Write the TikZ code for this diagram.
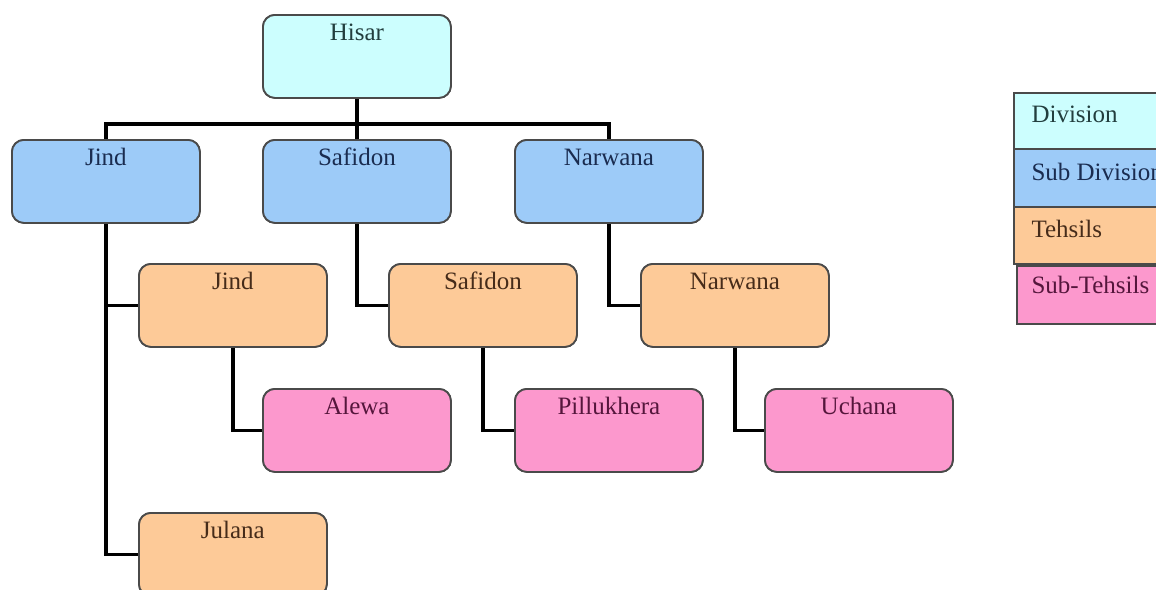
\documentclass[tikz,border=0pt]{standalone}
\usepackage{fontspec}
\setmainfont{Liberation Serif}
\definecolor{cDiv}{HTML}{CCFEFE}
\definecolor{cSub}{HTML}{9DCBF8}
\definecolor{cTeh}{HTML}{FDCA98}
\definecolor{cSt}{HTML}{FC98CD}
\definecolor{tDiv}{HTML}{223E3E}
\definecolor{tSub}{HTML}{1A2C50}
\definecolor{tTeh}{HTML}{462C1A}
\definecolor{tSt}{HTML}{55163C}
\definecolor{bord}{HTML}{4A4A4A}
\begin{document}
\begin{tikzpicture}[x=1pt,y=-1pt,
  font=\fontsize{25}{29}\selectfont,
  box/.style={draw=bord, line width=1.8pt, rounded corners=12pt, anchor=north west,
    minimum width=188pt, minimum height=83pt, inner sep=0pt},
  divbox/.style={box, fill=cDiv, label={[anchor=base, yshift=-26pt, text=tDiv]north:#1}},
  subbox/.style={box, fill=cSub, label={[anchor=base, yshift=-26pt, text=tSub]north:#1}},
  tehbox/.style={box, fill=cTeh, label={[anchor=base, yshift=-26pt, text=tTeh]north:#1}},
  stbox/.style={box, fill=cSt, label={[anchor=base, yshift=-26pt, text=tSt]north:#1}},
  legbox/.style={draw=bord, line width=1.8pt, anchor=north west, minimum width=160pt, inner sep=0pt},
  conn/.style={draw=black, line width=3.8pt}
]
\useasboundingbox (0,0) rectangle (1156,589);
\fill[white] (0,0) rectangle (1156,589);
\clip (0,0) rectangle (1156,589);

\coordinate (bar) at (0,124);

% connectors first (drawn beneath boxes)
\path (262,14) node[box] (hisar) {}
      (11,139) node[box] (jind2) {}
      (262,139) node[box] (safidon2) {}
      (514,139) node[box] (narwana2) {}
      (138,263) node[box] (jind3) {}
      (388,263) node[box] (safidon3) {}
      (640,263) node[box] (narwana3) {}
      (262,388) node[box] (alewa) {}
      (514,388) node[box] (pillukhera) {}
      (764,388) node[box] (uchana) {}
      (138,512) node[box] (julana) {};

\draw[conn] (hisar.south) -- (safidon2.north);
\draw[conn] (jind2.north) -- (jind2.north |- bar) -- (narwana2.north |- bar) -- (narwana2.north);
\draw[conn] (jind2.south) |- (jind3.west);
\draw[conn] (jind2.south) |- (julana.west);
\draw[conn] (safidon2.south) |- (safidon3.west);
\draw[conn] (narwana2.south) |- (narwana3.west);
\draw[conn] (jind3.south) |- (alewa.west);
\draw[conn] (safidon3.south) |- (pillukhera.west);
\draw[conn] (narwana3.south) |- (uchana.west);

% boxes with their texts
\node[divbox=Hisar] (hisarF) at (hisar.north west) {};
\node[subbox=Jind] (jind2F) at (jind2.north west) {};
\node[subbox=Safidon] (safidon2F) at (safidon2.north west) {};
\node[subbox=Narwana] (narwana2F) at (narwana2.north west) {};
\node[tehbox=Jind] (jind3F) at (jind3.north west) {};
\node[tehbox=Safidon] (safidon3F) at (safidon3.north west) {};
\node[tehbox=Narwana] (narwana3F) at (narwana3.north west) {};
\node[stbox=Alewa] (alewaF) at (alewa.north west) {};
\node[stbox=Pillukhera] (pillukheraF) at (pillukhera.north west) {};
\node[stbox=Uchana] (uchanaF) at (uchana.north west) {};
\node[tehbox=Julana] (julanaF) at (julana.north west) {};

% legend
\node[legbox, fill=cDiv, minimum height=56pt,
  label={[anchor=base west, xshift=15pt, yshift=-30pt, text=tDiv]north west:Division}] (lgdiv) at (1013,92) {};
\node[legbox, fill=cSub, minimum height=58pt,
  label={[anchor=base west, xshift=15pt, yshift=-32pt, text=tSub]north west:Sub Division}] (lgsub) at (1013,148) {};
\node[legbox, fill=cTeh, minimum height=57pt,
  label={[anchor=base west, xshift=15pt, yshift=-31pt, text=tTeh]north west:Tehsils}] (lgteh) at (1013,206) {};
\node[legbox, fill=cSt, minimum height=58pt,
  label={[anchor=base west, xshift=12pt, yshift=-28pt, text=tSt]north west:Sub-Tehsils}] (lgst) at (1016,265) {};
\end{tikzpicture}
\end{document}
